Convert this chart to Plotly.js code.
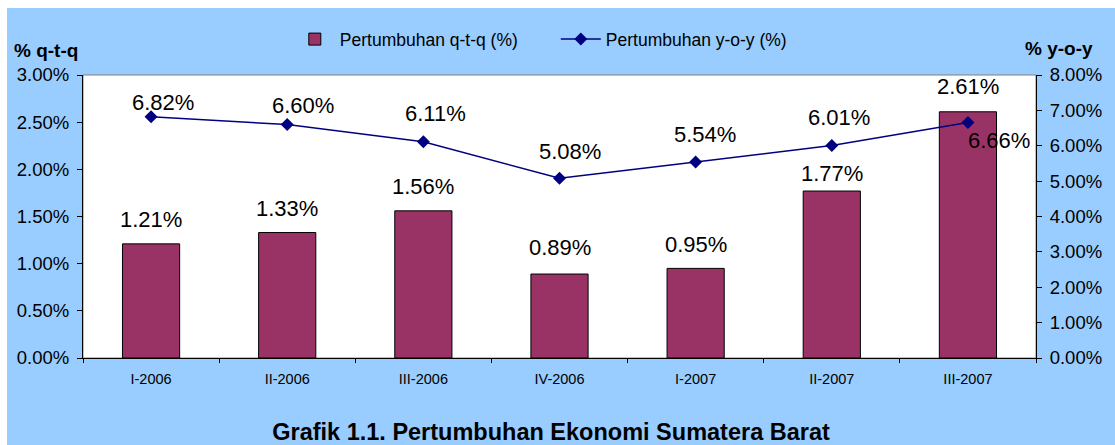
<!DOCTYPE html>
<html>
<head>
<meta charset="utf-8">
<script src="https://cdn.plot.ly/plotly-3.0.1.min.js"></script>
<style>
html,body{margin:0;padding:0;background:#ffffff;width:1115px;height:445px;overflow:hidden;}
#wrap{position:absolute;left:7px;top:8px;width:1108px;height:437px;background:#99CCFF;}
#chart{width:1108px;height:437px;}
</style>
</head>
<body>
<div id="wrap"><div id="chart"></div></div>
<script>
const categories = ["I-2006","II-2006","III-2006","IV-2006","I-2007","II-2007","III-2007"];
const qtq = [1.21, 1.33, 1.56, 0.89, 0.95, 1.77, 2.61];
const yoy = [6.82, 6.60, 6.11, 5.08, 5.54, 6.01, 6.66];
const leftTicks = [0, 0.5, 1.0, 1.5, 2.0, 2.5, 3.0];
const rightTicks = [0, 1, 2, 3, 4, 5, 6, 7, 8];
const seriesNames = ["Pertumbuhan q-t-q (%)", "Pertumbuhan y-o-y (%)"];
const chartTitle = "Grafik 1.1. Pertumbuhan Ekonomi Sumatera Barat";
const leftTitle = "% q-t-q";
const rightTitle = "% y-o-y";

// label pixel offsets (styling only, as in the original Excel layout)
const barLabelShiftY = [10, 10, 10, 12, 9, 3, 11];
const lineLabelShiftX = [12, 16, 12, 10, 9, 7, -2];
const lineLabelShiftY = [0, 5, 14, 12, 13, 13, -18];

const FONT = "'Liberation Sans', Arial, sans-serif";
const fmt = v => v.toFixed(2) + "%";

const traces = [
  {
    type: "bar", x: categories, y: qtq, name: seriesNames[0],
    marker: {color: "#993366", line: {color: "#000000", width: 1}},
    width: 0.42, yaxis: "y", hoverinfo: "skip"
  },
  {
    type: "scatter", mode: "lines+markers", x: categories, y: yoy, name: seriesNames[1],
    line: {color: "#000080", width: 1.5},
    marker: {symbol: "diamond", size: 10, color: "#000080"},
    yaxis: "y2", hoverinfo: "skip"
  }
];

const annotations = [];
categories.forEach((c, i) => {
  annotations.push({
    x: c, y: qtq[i], xref: "x", yref: "y", text: fmt(qtq[i]),
    showarrow: false, yanchor: "bottom", yshift: barLabelShiftY[i],
    font: {family: FONT, size: 22, color: "#000000"}
  });
  const last = i === categories.length - 1;
  annotations.push({
    x: c, y: yoy[i], xref: "x", yref: "y2", text: fmt(yoy[i]),
    showarrow: false,
    xanchor: last ? "left" : "center",
    yanchor: last ? "middle" : "bottom",
    xshift: lineLabelShiftX[i],
    yshift: lineLabelShiftY[i],
    font: {family: FONT, size: 22, color: "#000000"}
  });
});
annotations.push({
  xref: "paper", yref: "paper", x: -0.0745, y: 1.085, xanchor: "left", yanchor: "middle",
  text: "<b>" + leftTitle + "</b>", showarrow: false,
  font: {family: FONT, size: 19, color: "#000000"}
});
annotations.push({
  xref: "paper", yref: "paper", x: 1.0, y: 1.095, xanchor: "center", yanchor: "middle",
  xshift: 22.5,
  text: "<b>" + rightTitle + "</b>", showarrow: false,
  font: {family: FONT, size: 19, color: "#000000"}
});

const layout = {
  width: 1108, height: 437,
  paper_bgcolor: "#99CCFF", plot_bgcolor: "#FFFFFF",
  margin: {l: 76, r: 79, t: 67, b: 87},
  font: {family: FONT, color: "#000000"},
  title: {
    text: "<b>" + chartTitle + "</b>",
    x: 0.491, xanchor: "center", xref: "container",
    y: 1 - 424/437, yanchor: "middle", yref: "container",
    font: {family: FONT, size: 23.5, color: "#000000"}
  },
  showlegend: true,
  legend: {
    orientation: "h", x: 0.217, xanchor: "left", y: 1.19, yanchor: "top",
    bgcolor: "rgba(0,0,0,0)", font: {family: FONT, size: 17.5, color: "#000000"},
    traceorder: "normal", itemwidth: 40, entrywidth: 211
  },
  xaxis: {
    type: "category", showline: true, linecolor: "#000000", linewidth: 1,
    ticks: "outside", ticklen: 4, tickcolor: "#000000", tickson: "boundaries",
    showgrid: false, zeroline: false, ticklabelstandoff: 8,
    tickfont: {family: FONT, size: 14.5, color: "#000000"}
  },
  yaxis: {
    range: [0, 3], tickvals: leftTicks, ticktext: leftTicks.map(fmt),
    showline: true, linecolor: "#000000", linewidth: 1,
    ticks: "outside", ticklen: 5, tickcolor: "#000000", ticklabelstandoff: 4,
    showgrid: false, zeroline: false,
    tickfont: {family: FONT, size: 18.5, color: "#000000"}
  },
  yaxis2: {
    range: [0, 8], tickvals: rightTicks, ticktext: rightTicks.map(fmt),
    overlaying: "y", side: "right",
    showline: true, linecolor: "#000000", linewidth: 1,
    ticks: "outside", ticklen: 5, tickcolor: "#000000", ticklabelstandoff: 4,
    showgrid: false, zeroline: false,
    tickfont: {family: FONT, size: 18.5, color: "#000000"}
  },
  shapes: [{
    type: "rect", xref: "paper", yref: "paper", x0: 0, x1: 1, y0: 0, y1: 1,
    line: {color: "#808080", width: 1}, layer: "below"
  }],
  annotations: annotations
};

Plotly.newPlot("chart", traces, layout, {staticPlot: true, displayModeBar: false});
</script>
</body>
</html>
